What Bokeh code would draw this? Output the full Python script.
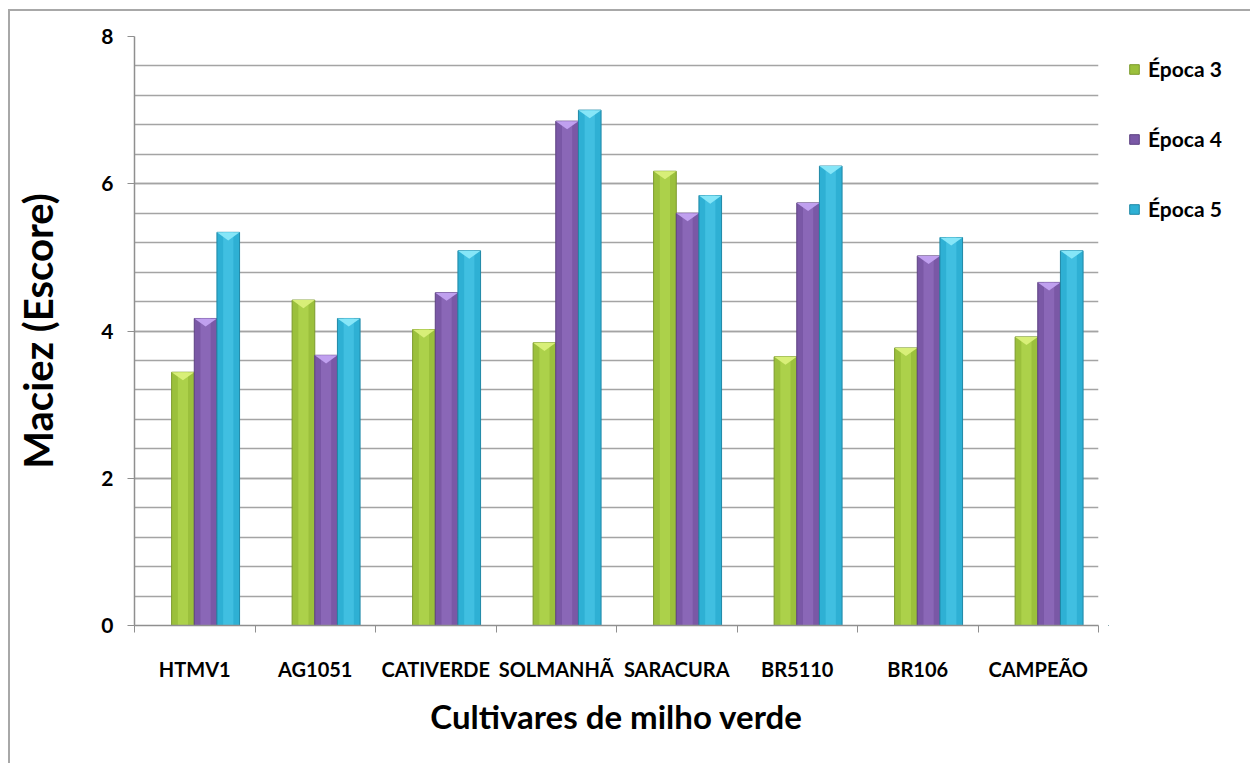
from bokeh.plotting import figure
from bokeh.models import (ColumnDataSource, FixedTicker, Legend, LegendItem)
from bokeh.layouts import row
from bokeh.embed import file_html
from bokeh.resources import INLINE

categories = ["HTMV1", "AG1051", "CATIVERDE", "SOLMANHÃ", "SARACURA", "BR5110", "BR106", "CAMPEÃO"]
epoca3 = [3.44, 4.42, 4.02, 3.84, 6.17, 3.65, 3.77, 3.92]
epoca4 = [4.17, 3.67, 4.52, 6.85, 5.60, 5.74, 5.02, 4.66]
epoca5 = [5.34, 4.17, 5.09, 7.00, 5.84, 6.24, 5.27, 5.09]
series_names = ["Época 3", "Época 4", "Época 5"]
y_ticks = [0, 2, 4, 6, 8]

FONT = "Lato"
colors = ["#9bc03c", "#7a58a6", "#2eb0d4"]
edges = ["#7c9a2c", "#5d4282", "#1f88a6"]
lights = ["#b0d44e", "#8e6cbb", "#45c3e3"]
chevrons = ["#d8ef78", "#c0a0ef", "#86e6f8"]

H = 752
TOP, BOTTOM = 25, 138
p = figure(width=1098, height=H, x_range=(0, len(categories)), y_range=(0, 8),
           output_backend="svg", toolbar_location=None,
           min_border_left=124, min_border_right=10, min_border_top=TOP, min_border_bottom=BOTTOM)
p.outline_line_color = None
p.xgrid.grid_line_color = None
p.ygrid.grid_line_color = "#a4a4a4"
p.ygrid.grid_line_width = 1.5
p.ygrid.minor_grid_line_color = "#a4a4a4"
p.ygrid.minor_grid_line_width = 1.5

bw = 0.188
shift = 0.09
offsets = [-bw, 0.0, bw]
for k, vals in enumerate([epoca3, epoca4, epoca5]):
    xs = [i + 0.5 + shift + offsets[k] for i in range(len(categories))]
    src = ColumnDataSource(dict(x=xs, top=vals))
    p.vbar(x="x", top="top", width=bw, source=src, fill_color=colors[k],
           line_color=edges[k], line_width=1)
    p.vbar(x="x", top="top", width=bw * 0.45, source=src, fill_color=lights[k],
           line_color=None, fill_alpha=0.8)
    cx = [[x - bw / 2, x + bw / 2, x] for x in xs]
    cy = [[v, v, v - 0.11] for v in vals]
    p.patches(xs=cx, ys=cy, fill_color=chevrons[k], line_color=None)

# y axis
yax = p.yaxis[0]
yax.ticker = FixedTicker(ticks=y_ticks, minor_ticks=[i * 0.4 for i in range(21)])
yax.axis_line_color = "#8f8f8f"
yax.axis_line_width = 1.5
yax.major_tick_line_color = "#8f8f8f"
yax.major_tick_out = 7
yax.major_tick_in = 0
yax.minor_tick_out = 0
yax.minor_tick_in = 0
yax.major_label_text_font = FONT
yax.major_label_text_font_style = "bold"
yax.major_label_text_font_size = "21px"
yax.major_label_text_color = "#000000"
yax.major_label_standoff = 14
yax.axis_label = "Maciez (Escore)"
yax.axis_label_text_font = FONT
yax.axis_label_text_font_style = "bold"
yax.axis_label_text_font_size = "40px"
yax.axis_label_text_color = "#000000"
yax.axis_label_standoff = 36

# x axis
xax = p.xaxis[0]
centers = [i + 0.5 for i in range(len(categories))]
xax.ticker = FixedTicker(ticks=centers, minor_ticks=list(range(len(categories) + 1)))
xax.major_label_overrides = {c: n for c, n in zip(centers, categories)}
xax.axis_line_color = "#8f8f8f"
xax.axis_line_width = 1.5
xax.major_tick_out = 0
xax.major_tick_in = 0
xax.minor_tick_line_color = "#8f8f8f"
xax.minor_tick_out = 7
xax.minor_tick_in = 0
xax.major_label_text_font = FONT
xax.major_label_text_font_style = "bold"
xax.major_label_text_font_size = "20px"
xax.major_label_text_color = "#000000"
xax.major_label_standoff = 24
xax.axis_label = "Cultivares de milho verde"
xax.axis_label_text_font = FONT
xax.axis_label_text_font_style = "bold"
xax.axis_label_text_font_size = "33px"
xax.axis_label_text_color = "#000000"
xax.axis_label_standoff = 12

# legend panel (separate canvas to the right of the plot area)
pl = figure(width=142, height=H, x_range=(10, 11), y_range=(10, 11),
            output_backend="svg", toolbar_location=None,
            x_axis_location=None, y_axis_location=None,
            min_border_left=0, min_border_right=0, min_border_top=TOP, min_border_bottom=BOTTOM)
pl.outline_line_color = None
pl.grid.grid_line_color = None
leg_renderers = []
for k in range(3):
    r = pl.vbar(x=[0], top=[1], width=0.1, fill_color=colors[k], line_color=edges[k], line_width=1)
    leg_renderers.append(r)

legend = Legend(items=[LegendItem(label=n, renderers=[r]) for n, r in zip(series_names, leg_renderers)],
                location=(20, 404), orientation="vertical")
legend.background_fill_alpha = 0
legend.border_line_color = None
legend.label_text_font = FONT
legend.label_text_font_style = "bold"
legend.label_text_font_size = "21px"
legend.label_text_color = "#000000"
legend.glyph_width = 12
legend.glyph_height = 12
legend.label_standoff = 8
legend.label_height = 24
legend.spacing = 45
legend.padding = 0
legend.margin = 0
pl.add_layout(legend, "center")

layout = row(p, pl, spacing=0,
             styles={"margin-left": "8px", "margin-top": "9px",
                     "border-left": "2px solid #a8a8a8", "border-top": "2px solid #a8a8a8"})

open("out.html", "w").write(file_html(layout, INLINE))
